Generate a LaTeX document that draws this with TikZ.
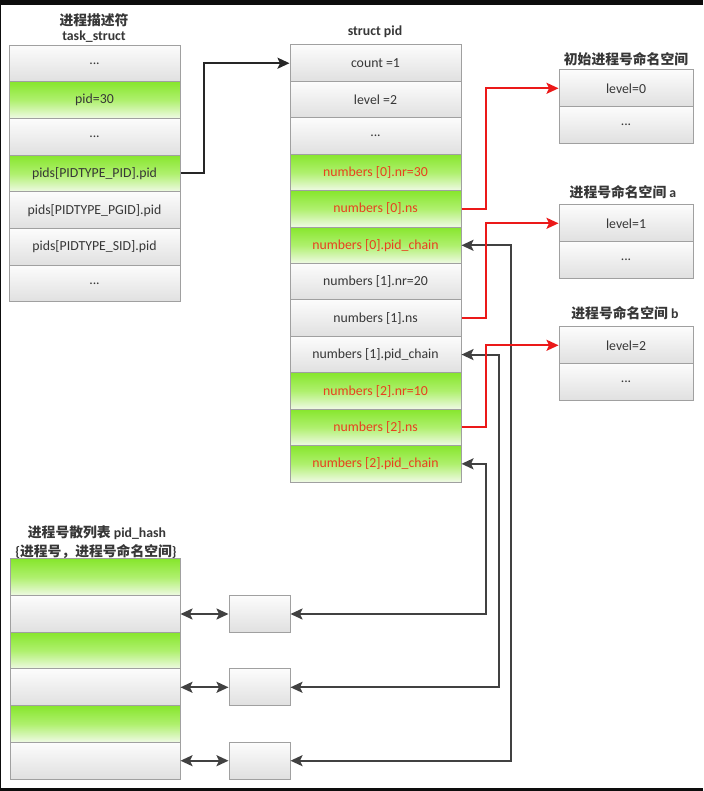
\documentclass[tikz,border=0pt]{standalone}
\usepackage{fontspec}
\setmainfont{Carlito}
\newfontfamily\cjk{Noto Sans CJK SC}
\usetikzlibrary{arrows.meta}
\definecolor{txt}{RGB}{55,55,55}
\definecolor{redtxt}{RGB}{232,64,32}
\definecolor{bord}{RGB}{160,160,160}
\definecolor{gtop}{RGB}{135,230,45}
\definecolor{gmid}{RGB}{175,240,110}
\definecolor{gbot}{RGB}{240,250,230}
\definecolor{wtop}{RGB}{252,252,252}
\definecolor{wbot}{RGB}{224,224,224}
\definecolor{arrred}{RGB}{235,25,25}
\definecolor{arrgray}{RGB}{65,65,65}
\tikzset{
  cell/.style={draw=bord, line width=1pt, rectangle, top color=wtop, bottom color=wbot,
    text=txt, font=\fontsize{13.8}{15}\selectfont, inner sep=0pt,
    minimum width=171pt, minimum height=36.7pt},
  gcell/.style={cell, top color=gtop, bottom color=gbot, middle color=gmid},
  rcell/.style={gcell, text=redtxt},
  pcell/.style={cell, minimum height=36.42pt},
  prcell/.style={rcell, minimum height=36.42pt},
  nscell/.style={cell, minimum width=134pt},
  hcell/.style={cell, minimum width=170pt},
  hgcell/.style={gcell, minimum width=170pt},
  sbox/.style={cell, minimum width=61pt},
  ttl/.style={text=txt, inner sep=0pt, font=\fontsize{13.8}{15}\selectfont\bfseries},
  tip/.style={Stealth[length=12pt,width=11pt,inset=2.5pt]},
  blkarrow/.style={draw=black!85, line width=2pt, -{Stealth[length=12pt,width=11pt,inset=2.5pt]}},
  redarrow/.style={draw=arrred, line width=2pt, -{Stealth[length=12pt,width=11pt,inset=2.5pt]}},
  grayarrow/.style={draw=arrgray, line width=2pt, {Stealth[length=12pt,width=11pt,inset=2.5pt]}-{Stealth[length=12pt,width=11pt,inset=2.5pt]}},
}
\begin{document}
\begin{tikzpicture}[x=1pt,y=-1pt]
\useasboundingbox (0,0) rectangle (703,791);
\fill[white] (0,0) rectangle (703,791);
\fill[black!95] (0,0) rectangle (703,5);
\fill[black!95] (0,788) rectangle (703,791);
\fill[black!95] (0,0) rectangle (1,791);

% titles
\node[ttl] (tt1) at (94,20) {\cjk\bfseries 进程描述符};
\node[ttl] (tt2) at (94,37) {task\_struct};
\node[ttl] (tt3) at (375,32) {struct pid};
\node[ttl] (tt4) at (626,59) {\cjk\bfseries 初始进程号命名空间};
\node[ttl] (tt5) at (623,192) {{\cjk\bfseries 进程号命名空间} a};
\node[ttl] (tt6) at (625,313) {{\cjk\bfseries 进程号命名空间} b};
\node[ttl] (tt7) at (97,533) {{\cjk\bfseries 进程号散列表} pid\_hash};
\node[ttl] (tt8) at (96,552) {\{{\cjk\bfseries 进程号，进程号命名空间}\}};

% task_struct
\node[cell]  (t0) at (94.5,63.36) {...};
\node[gcell] (t1) at (94.5,100.07) {pid=30};
\node[cell]  (t2) at (94.5,136.79) {...};
\node[gcell] (t3) at (94.5,173.5) {pids[PIDTYPE\_PID].pid};
\node[cell]  (t4) at (94.5,210.2) {pids[PIDTYPE\_PGID].pid};
\node[cell]  (t5) at (94.5,246.9) {pids[PIDTYPE\_SID].pid};
\node[cell]  (t6) at (94.5,283.6) {...};

% struct pid
\node[pcell]  (p0) at (375.5,63.21) {count =1};
\node[pcell]  (p1) at (375.5,99.63) {level =2};
\node[pcell]  (p2) at (375.5,136.05) {...};
\node[prcell] (p3) at (375.5,172.47) {numbers [0].nr=30};
\node[prcell] (p4) at (375.5,208.89) {numbers [0].ns};
\node[prcell] (p5) at (375.5,245.31) {numbers [0].pid\_chain};
\node[pcell]  (p6) at (375.5,281.73) {numbers [1].nr=20};
\node[pcell]  (p7) at (375.5,318.15) {numbers [1].ns};
\node[pcell]  (p8) at (375.5,354.57) {numbers [1].pid\_chain};
\node[prcell] (p9) at (375.5,390.99) {numbers [2].nr=10};
\node[prcell] (p10) at (375.5,427.41) {numbers [2].ns};
\node[prcell] (p11) at (375.5,463.83) {numbers [2].pid\_chain};

% namespaces
\node[nscell] (a0) at (626,88.3) {level=0};
\node[nscell] (a1) at (626,125) {...};
\node[nscell] (b0) at (626,223.3) {level=1};
\node[nscell] (b1) at (626,260) {...};
\node[nscell] (c0) at (626,345.3) {level=2};
\node[nscell] (c1) at (626,382) {...};

% pid_hash
\node[hgcell] (h0) at (95,577.3) {};
\node[hcell]  (h1) at (95,614) {};
\node[hgcell] (h2) at (95,650.7) {};
\node[hcell]  (h3) at (95,687.3) {};
\node[hgcell] (h4) at (95,724) {};
\node[hcell]  (h5) at (95,760.7) {};

% small boxes
\node[sbox] (s1) at (259.5,614) {};
\node[sbox] (s2) at (259.5,687.3) {};
\node[sbox] (s3) at (259.5,760.7) {};

% connectors
\draw[blkarrow] (t3.east) -- ++(23,0) |- (p0.west);

\draw[grayarrow] (p5.east) -- ++(49,0) |- (s3.east);
\draw[grayarrow] (p8.east) -- ++(37,0) |- (s2.east);
\draw[grayarrow] (p11.east) -- ++(24,0) |- (s1.east);

\draw[redarrow] (p4.east) -- ++(24,0) |- (a0.west);
\draw[redarrow] (p7.east) -- ++(24,0) |- (b0.west);
\draw[redarrow] (p10.east) -- ++(24,0) |- (c0.west);

\draw[grayarrow] (h1.east) -- (s1.west);
\draw[grayarrow] (h3.east) -- (s2.west);
\draw[grayarrow] (h5.east) -- (s3.west);
\end{tikzpicture}
\end{document}
